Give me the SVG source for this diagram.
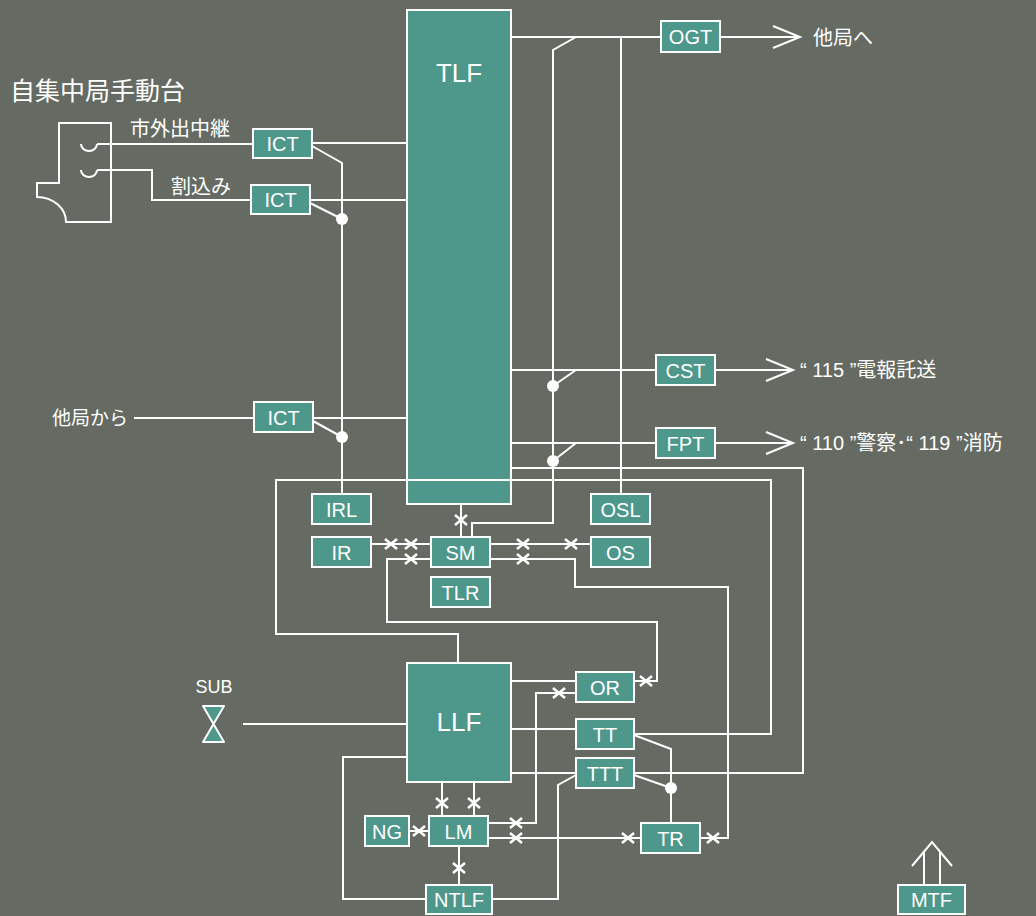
<svg xmlns="http://www.w3.org/2000/svg" xmlns:xlink="http://www.w3.org/1999/xlink" width="1036" height="916" viewBox="0 0 1036 916">
<defs>
<style>
.bx{fill:#4d978b;stroke:#fff;stroke-width:2}
.bt{fill:#fff;font-family:"Liberation Sans","Noto Sans CJK JP",sans-serif;font-size:20px;text-anchor:middle}
.big{font-size:26px}
.lb{fill:#fff;font-family:"Liberation Sans","Noto Sans CJK JP",sans-serif;font-size:19px}
.ln{fill:none;stroke:#fff;stroke-width:2}
.dot{fill:#fff}
</style>
<path id="x" d="M-6,-5 L6,5 M-6,5 L6,-5" fill="none" stroke="#fff" stroke-width="2.5"/>
</defs>
<rect width="1036" height="916" fill="#656b63"/>

<g id="labels">
<text class="lb" x="10" y="100" style="font-size:25px">自集中局手動台</text>
<text class="lb" x="130" y="136" style="font-size:20px">市外出中継</text>
<text class="lb" x="171" y="194" style="font-size:20px">割込み</text>
<text class="lb" x="52" y="425">他局から</text>
<text class="lb" x="813" y="45" style="font-size:20px">他局へ</text>
<text class="lb" x="800" y="377" style="font-size:20px">“ 115 ”電報託送</text>
<text class="lb" x="800" y="450" style="font-size:20px">“ 110 ”警察･“ 119 ”消防</text>
<text class="lb" x="214" y="693" text-anchor="middle" style="font-size:18px">SUB</text>
</g>

<g id="panel">
<path class="ln" d="M59,183 V123 H111 V222 H66 A29,25 0 0 0 37,197 V183 Z"/>
<path class="ln" d="M81,144 A8,7 0 0 0 97,144"/>
<path class="ln" d="M81,170 A8,7 0 0 0 97,170"/>
</g>

<g id="sub">
<path d="M203,706 H224 L213.5,724 Z M213.5,724 L203,742 H224 Z" fill="#4d978b" stroke="#fff" stroke-width="2" stroke-linejoin="round"/>
</g>

<g id="TLF"><rect class="bx" x="407" y="10" width="104" height="494"/><text class="bt big" x="459" y="82">TLF</text></g>
<g id="LLF"><rect class="bx" x="407" y="663" width="104" height="119"/><text class="bt big" x="459" y="731">LLF</text></g>
<g id="ICT1"><rect class="bx" x="253" y="129" width="59" height="29"/><text class="bt" x="282.5" y="150.5">ICT</text></g>
<g id="ICT2"><rect class="bx" x="251" y="185" width="59" height="29"/><text class="bt" x="280.5" y="206.5">ICT</text></g>
<g id="ICT3"><rect class="bx" x="254" y="402" width="59" height="30"/><text class="bt" x="283.5" y="424.5">ICT</text></g>
<g id="OGT"><rect class="bx" x="661" y="21" width="59" height="31"/><text class="bt" x="690.5" y="43.5">OGT</text></g>
<g id="CST"><rect class="bx" x="656" y="355" width="59" height="30"/><text class="bt" x="685.5" y="377.5">CST</text></g>
<g id="FPT"><rect class="bx" x="656" y="428" width="59" height="30"/><text class="bt" x="685.5" y="450.5">FPT</text></g>
<g id="IRL"><rect class="bx" x="312" y="494" width="59" height="30"/><text class="bt" x="341.5" y="516.5">IRL</text></g>
<g id="OSL"><rect class="bx" x="591" y="494" width="59" height="30"/><text class="bt" x="620.5" y="516.5">OSL</text></g>
<g id="IR"><rect class="bx" x="312" y="537" width="59" height="30"/><text class="bt" x="341.5" y="559.5">IR</text></g>
<g id="SM"><rect class="bx" x="431" y="537" width="59" height="30"/><text class="bt" x="460.5" y="559.5">SM</text></g>
<g id="OS"><rect class="bx" x="591" y="537" width="59" height="30"/><text class="bt" x="620.5" y="559.5">OS</text></g>
<g id="TLR"><rect class="bx" x="431" y="577" width="59" height="30"/><text class="bt" x="460.5" y="599.5">TLR</text></g>
<g id="OR"><rect class="bx" x="576" y="672" width="58" height="30"/><text class="bt" x="605" y="694.5">OR</text></g>
<g id="TT"><rect class="bx" x="576" y="719" width="58" height="30"/><text class="bt" x="605" y="741.5">TT</text></g>
<g id="TTT"><rect class="bx" x="576" y="758" width="58" height="30"/><text class="bt" x="605" y="780.5">TTT</text></g>
<g id="NG"><rect class="bx" x="365" y="816" width="44" height="30"/><text class="bt" x="387" y="838.5">NG</text></g>
<g id="LM"><rect class="bx" x="429" y="816" width="59" height="30"/><text class="bt" x="458.5" y="838.5">LM</text></g>
<g id="TR"><rect class="bx" x="641" y="823" width="59" height="30"/><text class="bt" x="670.5" y="845.5">TR</text></g>
<g id="NTLF"><rect class="bx" x="426" y="885" width="66" height="29"/><text class="bt" x="459" y="907">NTLF</text></g>
<g id="MTF"><rect class="bx" x="898" y="885" width="67" height="29"/><text class="bt" x="931.5" y="907">MTF</text></g>

<g id="connectors">
<path class="ln" d="M511,37 H661 M720,37 H800 M773,26 L800,37 L773,48"/>
<path class="ln" d="M576,37 L553,50 V523 H472 V537"/>
<path class="ln" d="M621,37 V494"/>
<path class="ln" d="M511,370 H656 M715,370 H793 M766,359 L793,370 L766,381 M553,386 L576,370"/>
<path class="ln" d="M511,443 H656 M715,443 H793 M766,432 L793,443 L766,454 M553,461 L576,443"/>
<path class="ln" d="M511,468 H803 V773 H634"/>
<path class="ln" d="M458,663 V634 H276 V480 H771 V734 H634"/>
<path class="ln" d="M97,144 H253 M97,170 H152 V200 H251"/>
<path class="ln" d="M312,143 H407 M310,200 H407 M134,418 H254 M313,418 H407"/>
<path class="ln" d="M312,146 L342,163 V494 M310,203 L342,219 M313,421 L342,437"/>
<path class="ln" d="M461,504 V537"/>
<path class="ln" d="M371,544 H431"/>
<path class="ln" d="M431,559 H387 V622 H657 V681 H634"/>
<path class="ln" d="M490,544 H591"/>
<path class="ln" d="M490,559 H575 V587 H728 V838 H700"/>
<path class="ln" d="M243,724 H407"/>
<path class="ln" d="M511,681 H576"/>
<path class="ln" d="M576,693 H536 V823 H488"/>
<path class="ln" d="M511,729 H576 M511,773 H576"/>
<path class="ln" d="M634,735 L671,749 V823 M634,775 L671,788"/>
<path class="ln" d="M576,775 L558,785 V899 H492"/>
<path class="ln" d="M488,838 H641"/>
<path class="ln" d="M442,782 V816 M474,782 V816"/>
<path class="ln" d="M429,831 H409"/>
<path class="ln" d="M459,846 V885"/>
<path class="ln" d="M407,757 H343 V899 H426"/>
<path class="ln" d="M924,885 V852 M940,885 V852 M912,866 L932,842 L952,866"/>
<circle class="dot" cx="342" cy="219" r="6"/>
<circle class="dot" cx="342" cy="437" r="6"/>
<circle class="dot" cx="553" cy="386" r="6"/>
<circle class="dot" cx="553" cy="461" r="6"/>
<circle class="dot" cx="671" cy="788" r="6"/>
<use xlink:href="#x" x="461" y="520"/>
<use xlink:href="#x" x="391" y="544"/>
<use xlink:href="#x" x="411" y="544"/>
<use xlink:href="#x" x="411" y="559"/>
<use xlink:href="#x" x="523" y="544"/>
<use xlink:href="#x" x="571" y="544"/>
<use xlink:href="#x" x="523" y="559"/>
<use xlink:href="#x" x="646" y="681"/>
<use xlink:href="#x" x="559" y="693"/>
<use xlink:href="#x" x="516" y="823"/>
<use xlink:href="#x" x="516" y="838"/>
<use xlink:href="#x" x="628" y="838"/>
<use xlink:href="#x" x="713" y="838"/>
<use xlink:href="#x" x="442" y="803"/>
<use xlink:href="#x" x="474" y="803"/>
<use xlink:href="#x" x="419" y="831"/>
<use xlink:href="#x" x="459" y="868"/>
</g>
</svg>
